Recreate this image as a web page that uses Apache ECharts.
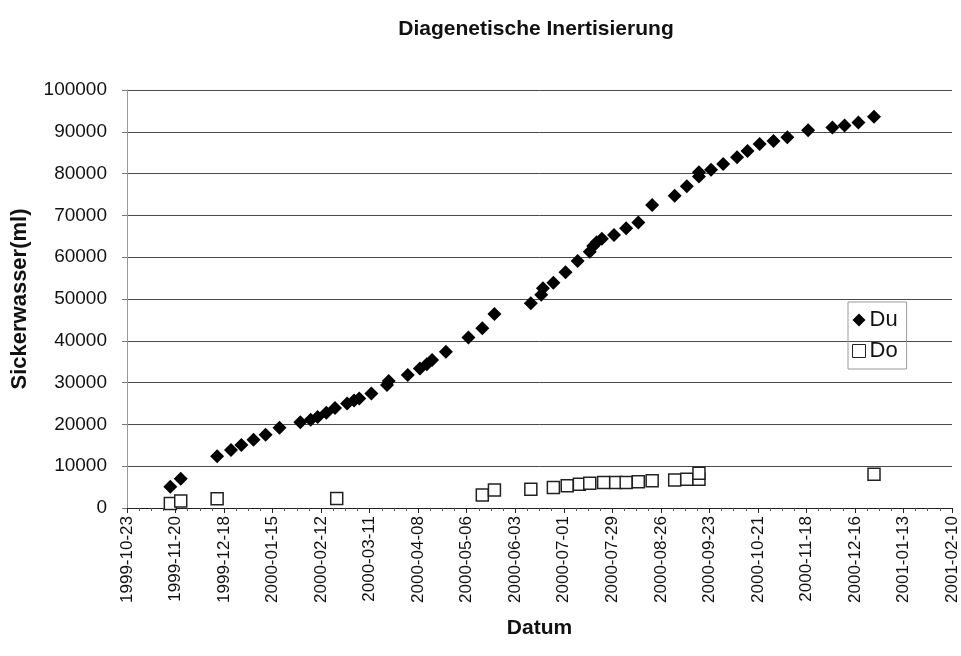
<!DOCTYPE html>
<html>
<head>
<meta charset="utf-8">
<script src="https://cdn.jsdelivr.net/npm/echarts@6/dist/echarts.min.js"></script>
<style>
  html, body { margin: 0; padding: 0; background: #fff; }
  #chart { width: 961px; height: 656px; }
</style>
</head>
<body>
<div id="chart"></div>
<script>
// Du / Do Messungen
const duDates = ['1999-11-17', '1999-11-23', '1999-12-14', '1999-12-22', '1999-12-28', '2000-01-04', '2000-01-11', '2000-01-19',
  '2000-01-31', '2000-02-06', '2000-02-10', '2000-02-15', '2000-02-20', '2000-02-27', '2000-03-02', '2000-03-05', '2000-03-12',
  '2000-03-21', '2000-03-22', '2000-04-02', '2000-04-09', '2000-04-13', '2000-04-16', '2000-04-24', '2000-05-07', '2000-05-15',
  '2000-05-22', '2000-06-12', '2000-06-18', '2000-06-19', '2000-06-25', '2000-07-02', '2000-07-09', '2000-07-16', '2000-07-18',
  '2000-07-20', '2000-07-23', '2000-07-30', '2000-08-06', '2000-08-13', '2000-08-21', '2000-09-03', '2000-09-10', '2000-09-17',
  '2000-09-17', '2000-09-24', '2000-10-01', '2000-10-09', '2000-10-15', '2000-10-22', '2000-10-30', '2000-11-07', '2000-11-19',
  '2000-12-03', '2000-12-10', '2000-12-18', '2000-12-27'];
const duValues = [5100, 7000, 12400, 13900, 15100, 16300, 17500, 19200,
  20500, 21100, 21800, 22800, 23900, 25000, 25700, 26200, 27400,
  29400, 30400, 31800, 33400, 34400, 35400, 37400, 40800, 43000,
  46400, 49000, 51000, 52600, 53900, 56400, 59100, 61300, 62700,
  63600, 64400, 65300, 66900, 68300, 72500, 74700, 77000, 79300,
  80300, 80900, 82300, 83900, 85400, 87100, 87800, 88700, 90400,
  91000, 91500, 92200, 93600];

const doDates = ['1999-11-17', '1999-11-23', '1999-12-14', '2000-02-21', '2000-05-15', '2000-05-22', '2000-06-12',
  '2000-06-25', '2000-07-03', '2000-07-10', '2000-07-16', '2000-07-24', '2000-07-31', '2000-08-06', '2000-08-13',
  '2000-08-21', '2000-09-03', '2000-09-10', '2000-09-17', '2000-09-17', '2000-12-27'];
const doValues = [1100, 1700, 2200, 2300, 3100, 4300, 4500,
  4900, 5300, 5700, 5900, 6100, 6100, 6100, 6300,
  6500, 6700, 6900, 6900, 8300, 8100];

// Achse: Tage ab 1999-10-23, Beschriftung alle 28 Tage
const axisStart = '1999-10-23';
const axisEnd = '2001-02-10';
const tickDays = 28;
const yTicks = [0, 100000, 10000];

const DAY = 86400000;
const startMs = Date.parse(axisStart + 'T00:00:00Z');
const toDay = (d) => Math.round((Date.parse(d + 'T00:00:00Z') - startMs) / DAY);
const toLabel = (v) => new Date(startMs + v * DAY).toISOString().slice(0, 10);

const duData = duDates.map((d, i) => [toDay(d), duValues[i]]);
const doData = doDates.map((d, i) => [toDay(d), doValues[i]]);

const font = 'Liberation Sans, Arial, sans-serif';
const chart = echarts.init(document.getElementById('chart'));

chart.setOption({
  animation: false,
  backgroundColor: '#fff',
  title: {
    text: 'Diagenetische Inertisierung',
    left: 531,
    textAlign: 'center',
    top: 14,
    textStyle: { fontFamily: font, fontSize: 21, fontWeight: 'bold', color: '#111' }
  },
  legend: {
    left: 848,
    top: 302,
    orient: 'vertical',
    itemGap: 9,
    itemWidth: 13,
    itemHeight: 13,
    padding: [7, 9, 7, 4],
    borderColor: '#999',
    borderWidth: 1,
    textStyle: { fontFamily: font, fontSize: 22, color: '#111', padding: [0, 0, 0, -1] },
    data: [
      { name: 'Du', icon: 'diamond' },
      { name: 'Do', icon: 'rect', itemStyle: { color: '#fff', borderColor: '#222', borderWidth: 1 } }
    ]
  },
  grid: { left: 127, right: 9, top: 90, bottom: 148 },
  xAxis: {
    type: 'value',
    min: 0,
    max: toDay(axisEnd),
    interval: tickDays,
    name: 'Datum',
    nameLocation: 'middle',
    nameGap: 110,
    nameTextStyle: { fontFamily: font, fontSize: 21, fontWeight: 'bold', color: '#111' },
    axisLine: { lineStyle: { color: '#222', width: 1 } },
    axisTick: { show: true, length: 5, lineStyle: { color: '#222' } },
    minorTick: { show: true, splitNumber: 4, length: 3, lineStyle: { color: '#555' } },
    splitLine: { show: false },
    axisLabel: {
      rotate: 90,
      margin: 8,
      fontFamily: font,
      fontSize: 17,
      color: '#111',
      formatter: toLabel
    }
  },
  yAxis: {
    type: 'value',
    min: yTicks[0],
    max: yTicks[1],
    interval: yTicks[2],
    name: 'Sickerwasser(ml)',
    nameLocation: 'middle',
    nameRotate: 90,
    nameGap: 96,
    nameTextStyle: { fontFamily: font, fontSize: 22, fontWeight: 'bold', color: '#111' },
    axisLine: { show: true, lineStyle: { color: '#999', width: 1 } },
    axisTick: { show: true, length: 5, lineStyle: { color: '#777' } },
    splitLine: { lineStyle: { color: '#4a4a4a', width: 1 } },
    axisLabel: {
      margin: 20,
      fontFamily: font,
      fontSize: 19,
      color: '#111',
      formatter: (v) => String(v)
    }
  },
  series: [
    {
      name: 'Du',
      type: 'scatter',
      symbol: 'diamond',
      symbolSize: 14,
      itemStyle: { color: '#000', opacity: 1 },
      data: duData,
      z: 3
    },
    {
      name: 'Do',
      type: 'scatter',
      symbol: 'rect',
      symbolSize: 12,
      itemStyle: { color: '#fff', borderColor: '#222', borderWidth: 1.5, opacity: 1 },
      data: doData,
      z: 2
    }
  ]
});
</script>
</body>
</html>
